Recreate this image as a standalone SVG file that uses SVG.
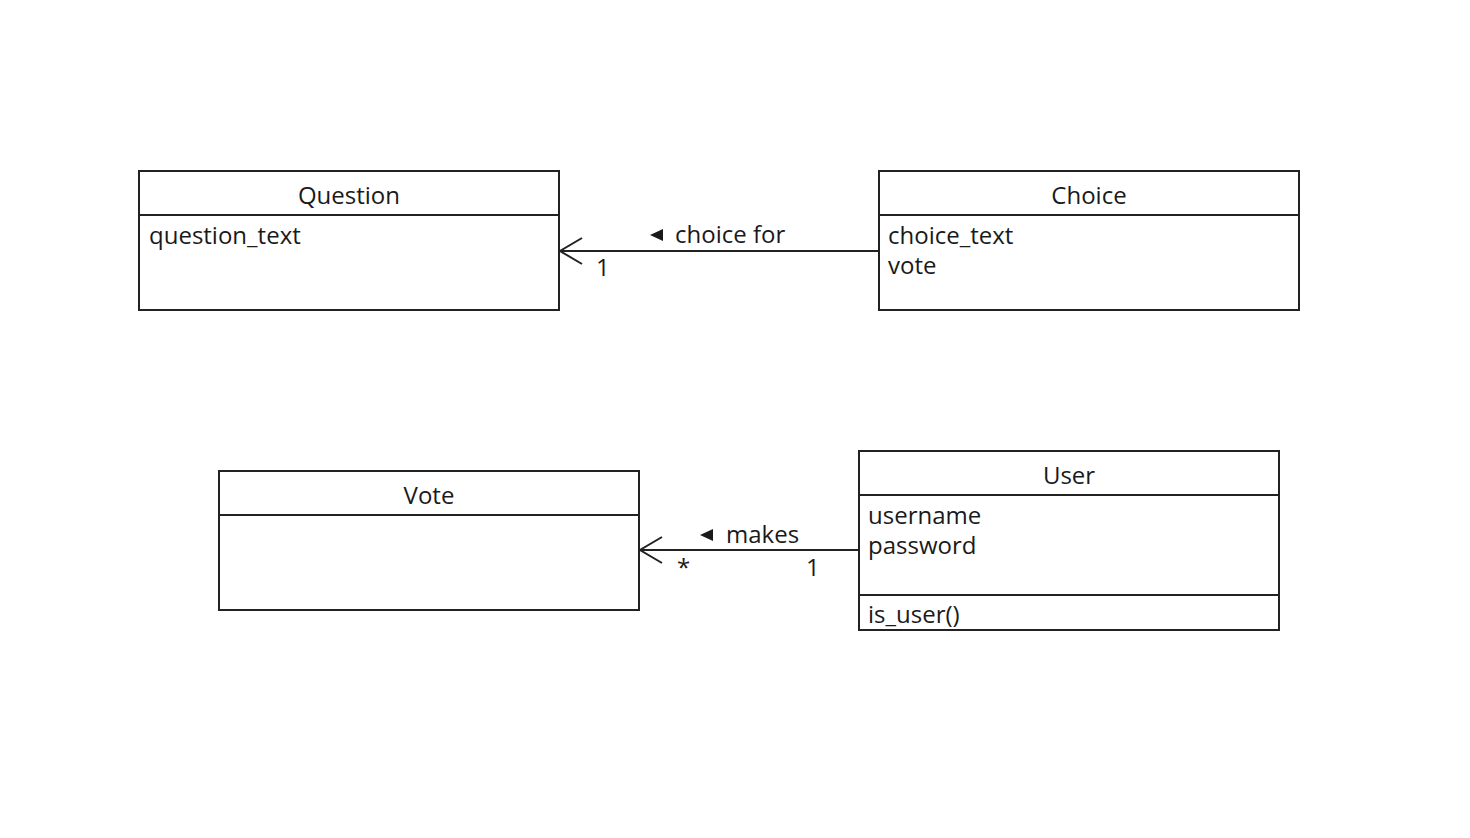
<svg xmlns="http://www.w3.org/2000/svg" width="1470" height="838" viewBox="0 0 1470 838">
<style>
.box{fill:#fff;stroke:#222;stroke-width:2}
.sep{stroke:#222;stroke-width:2}
.t{font-family:"Open Sans","Noto Sans","DejaVu Sans",sans-serif;font-size:24px;fill:#1a1a1a}
.c{text-anchor:middle}
.tri{fill:#1a1a1a;stroke:none}
.ln{stroke:#222;stroke-width:2;fill:none}
</style>
<rect width="1470" height="838" fill="#fff"/>
<g id="Question">
<rect class="box" x="139" y="171" width="420" height="139"/>
<line class="sep" x1="139" y1="215" x2="559" y2="215"/>
<text class="t c" x="349" y="204">Question</text>
<text class="t" x="149" y="244">question_text</text>
</g>
<g id="Choice">
<rect class="box" x="879" y="171" width="420" height="139"/>
<line class="sep" x1="879" y1="215" x2="1299" y2="215"/>
<text class="t c" x="1089" y="204">Choice</text>
<text class="t" x="888" y="244">choice_text</text>
<text class="t" x="888" y="274">vote</text>
</g>
<g id="Vote">
<rect class="box" x="219" y="471" width="420" height="139"/>
<line class="sep" x1="219" y1="515" x2="639" y2="515"/>
<text class="t c" x="429" y="504">Vote</text>
</g>
<g id="User">
<rect class="box" x="859" y="451" width="420" height="179"/>
<line class="sep" x1="859" y1="495" x2="1279" y2="495"/>
<line class="sep" x1="859" y1="595" x2="1279" y2="595"/>
<text class="t c" x="1069" y="484">User</text>
<text class="t" x="868" y="524">username</text>
<text class="t" x="868" y="554">password</text>
<text class="t" x="868" y="623">is_user()</text>
</g>
<g id="connectors">
<g id="choice-for">
<line class="ln" x1="879" y1="251" x2="560" y2="251"/>
<polyline class="ln" points="582,238 560,251 582,264"/>
<polygon class="tri" points="650,235 663,229 663,241"/>
<text class="t" x="675" y="243">choice for</text>
<text class="t" x="596" y="276">1</text>
</g>
<g id="makes">
<line class="ln" x1="859" y1="550" x2="640" y2="550"/>
<polyline class="ln" points="662,537 640,550 662,563"/>
<polygon class="tri" points="700,535 713,529 713,541"/>
<text class="t" x="726" y="543">makes</text>
<text class="t" x="677" y="576">*</text>
<text class="t" x="806" y="576">1</text>
</g>
</g>
</svg>
